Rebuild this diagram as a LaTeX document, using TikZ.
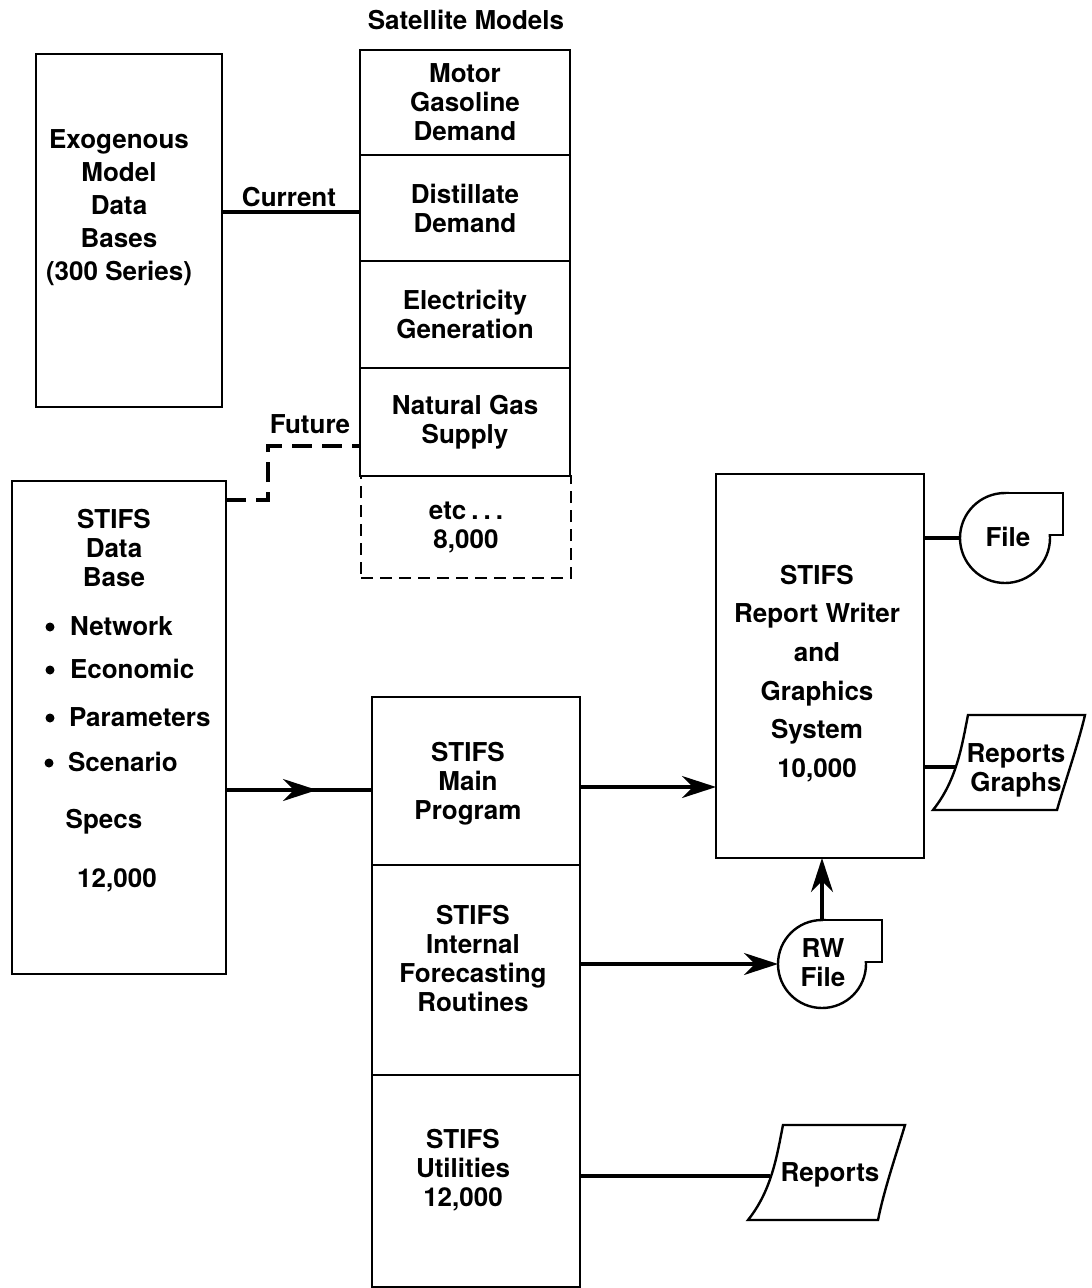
\documentclass[tikz,border=0pt]{standalone}
\usepackage{fontspec}
\setmainfont{TeX Gyre Heros}
\usetikzlibrary{arrows.meta}
\begin{document}
\begin{tikzpicture}[x=1pt,y=-1pt,
  box/.style={draw, line width=2.4pt, inner sep=0pt, outer sep=0pt, align=center,
              font=\bfseries\fontsize{26}{29}\selectfont},
  lbl/.style={inner sep=0pt, outer sep=0pt, align=center, font=\bfseries\fontsize{26}{29}\selectfont},
  lblA/.style={lbl, font=\bfseries\fontsize{26}{33}\selectfont},
  lblB/.style={lbl, font=\bfseries\fontsize{26}{38.6}\selectfont},
  tape/.style={box, circle},
  dot/.style={circle, fill, inner sep=0pt, outer sep=0pt, minimum size=9pt},
  conn/.style={line width=3.2pt},
  tip/.style={-{Stealth[length=34pt,width=22pt,inset=11pt]}},
  fut/.style={conn, dash pattern=on 20pt off 10pt},
  outline/.style={line width=2.4pt}
]
\useasboundingbox (0,0) rectangle (1092,1288);

% Satellite models column
\node[lbl] (title) at (466,20) {Satellite Models};
\node[box, minimum width=210pt, minimum height=105pt] (sat1) at (465,102.5) {Motor\\Gasoline\\Demand};
\node[box, minimum width=210pt, minimum height=106pt] (sat2) at (465,208) {Distillate\\Demand};
\node[box, minimum width=210pt, minimum height=107pt] (sat3) at (465,314.5) {Electricity\\Generation};
\node[box, minimum width=210pt, minimum height=108pt] (sat4) at (465,422) {Natural Gas\\Supply};
\node[box, dash pattern=on 12pt off 7pt, minimum width=210pt, minimum height=102pt] (sat5) at (466,527) {etc\hspace{5pt}.\hspace{5pt}.\hspace{5pt}.\\8,000};

% Exogenous box
\node[box, minimum width=186pt, minimum height=353pt] (exo) at (129,230.5) {};
\node[lblA] (exot) at (119,207.5) {Exogenous\\Model\\Data\\Bases\\(300 Series)};
\node[lbl] (cur) at (289,197) {Current};
\node[lbl] (futl) at (310,424) {Future};

% STIFS data base
\node[box, minimum width=214pt, minimum height=493pt] (db) at (119,727.5) {};
\node[lbl] (dbt) at (114,548) {STIFS\\Data\\Base};
\node[dot] (d1) at (50,627) {};
\node[dot] (d2) at (50,670) {};
\node[dot] (d3) at (50,718) {};
\node[dot] (d4) at (49,763) {};
\node[lbl, anchor=west] (b1) at (70,626) {Network};
\node[lbl, anchor=west] (b2) at (70,669) {Economic};
\node[lbl, anchor=west] (b3) at (69,717) {Parameters};
\node[lbl, anchor=west] (b4) at (68,762) {Scenario};
\node[lbl] (specs) at (104,822) {Specs};
\node[lbl] (dbnum) at (117,880) {12,000};

% Main column
\node[box, minimum width=208pt, minimum height=168pt] (mp) at (476,781) {};
\node[box, minimum width=208pt, minimum height=210pt] (ifr) at (476,970) {};
\node[box, minimum width=208pt, minimum height=212pt] (util) at (476,1181) {};
\node[lbl] (mpt) at (468,784) {STIFS\\Main\\Program};
\node[lbl] (ifrt) at (473,958) {STIFS\\Internal\\Forecasting\\Routines};
\node[lbl] (utilt) at (463,1170) {STIFS\\Utilities\\12,000};

% Report writer
\node[box, minimum width=208pt, minimum height=384pt] (rw) at (820,666) {};
\node[lblB] (rwt) at (817,673.5) {STIFS\\Report Writer\\and\\Graphics\\System\\10,000};

% Tape files
\node[tape, minimum size=90pt] (file) at (1005,538) {};
\fill[white] (1006,494) rectangle (1062,534);
\draw[outline] (1005,493) -- (1063,493) -- (1063,535) -- (1050,535);
\node[lbl] (filet) at (1008,537) {File};

\node[tape, minimum size=88pt] (rwfile) at (822,964) {};
\fill[white] (823,921) rectangle (881,961);
\draw[outline] (822,920) -- (882,920) -- (882,962) -- (866,962);
\node[lbl] (rwfilet) at (823,963) {RW\\File};

% Output documents
\draw[outline] (968,715) -- (1085,715) .. controls (1078,745) and (1064,785) .. (1057,810)
  -- (933,810) .. controls (957,780) and (962,745) .. (968,715) -- cycle;
\node[lbl] (rg) at (1016,770) {Reports\\Graphs};
\coordinate (rgin) at (956,767);

\draw[outline] (783,1125) -- (905,1125) .. controls (896,1155) and (884,1190) .. (878,1220)
  -- (748,1220) .. controls (772,1190) and (777,1155) .. (783,1125) -- cycle;
\node[lbl] (rep) at (830,1175) {Reports};
\coordinate (repin) at (770,1176);

% Connectors
\draw[conn] (exo.east |- 0,212) -- (sat2.west |- 0,212);
\draw[fut] (db.east |- 0,500) -- (268,500) -- (268,446) -- (sat4.west |- 0,446);
\draw[conn] (db.east |- 0,790) -- (mp.west |- 0,790);
\draw[conn, tip] (db.east |- 0,790) -- (317,790);
\draw[conn, tip] (mp.east |- 0,787) -- (rw.west |- 0,787);
\draw[conn] (rw.east |- file.west) -- (file.west);
\draw[conn] (rw.east |- rgin) -- (rgin);
\draw[conn, tip] (rwfile.north) -- (rwfile.north |- rw.south);
\draw[conn, tip] (ifr.east |- rwfile.west) -- (rwfile.west);
\draw[conn] (util.east |- repin) -- (repin);
\end{tikzpicture}
\end{document}
